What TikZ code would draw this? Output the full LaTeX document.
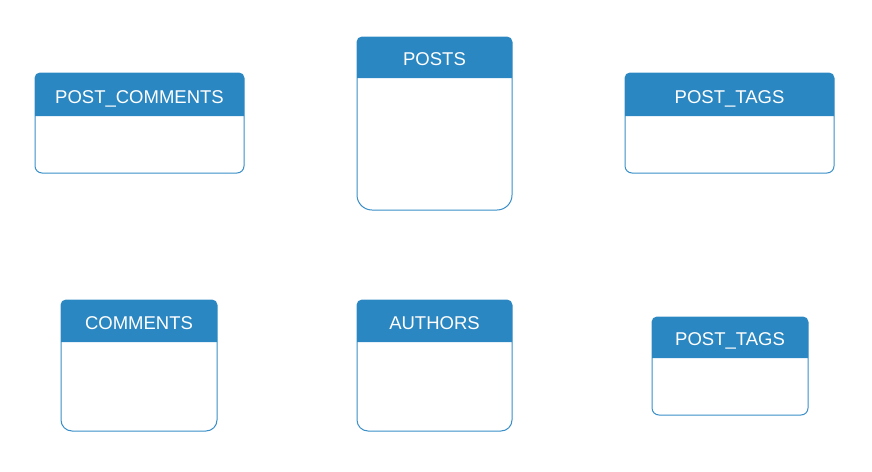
\documentclass[tikz,border=0pt]{standalone}
\usepackage{fontspec}
\setmainfont{Liberation Sans}
\definecolor{hdrblue}{HTML}{2A87C1}
\definecolor{edgeblue}{HTML}{3A8FC8}
\tikzset{
  boxline/.style={draw=edgeblue, line width=1pt, fill=white},
  hdrfill/.style={fill=hdrblue},
  title/.style={text=white, font=\fontsize{18.5}{20}\selectfont, inner sep=0pt, anchor=base}
}
% #1 name, #2 x1, #3 y1, #4 x2, #5 y2, #6 header bottom, #7 bottom radius, #8 text
\newcommand\erentity[8]{%
  \draw[boxline] (#2,-#6) [rounded corners=5pt] -- (#2,-#3) -- (#4,-#3) [rounded corners=#7pt] -- (#4,-#5) -- (#2,-#5) -- cycle;
  \fill[hdrfill] (#2,-#6) [rounded corners=5pt] -- (#2,-#3) -- (#4,-#3) [sharp corners] -- (#4,-#6) -- cycle;
  \node[title] (#1) at ({(#2+#4)/2},{-#6+12.7}) {#8};
}
\begin{document}
\begin{tikzpicture}[x=1pt,y=1pt]
\useasboundingbox (0,0) rectangle (872,-471);
\fill[white] (0,0) rectangle (872,-471);
\erentity{postcomments}{35}{73}{244}{173}{116}{7}{POST\_COMMENTS}
\erentity{posts}{357}{37}{512}{210}{78}{15}{POSTS}
\erentity{posttagsA}{625}{73}{834}{173}{116}{7}{POST\_TAGS}
\erentity{comments}{61}{300}{217}{431}{342}{11}{COMMENTS}
\erentity{authors}{357}{300}{512}{431}{342}{11}{AUTHORS}
\erentity{posttagsB}{652}{317}{808}{415}{358}{7}{POST\_TAGS}
\end{tikzpicture}
\end{document}
